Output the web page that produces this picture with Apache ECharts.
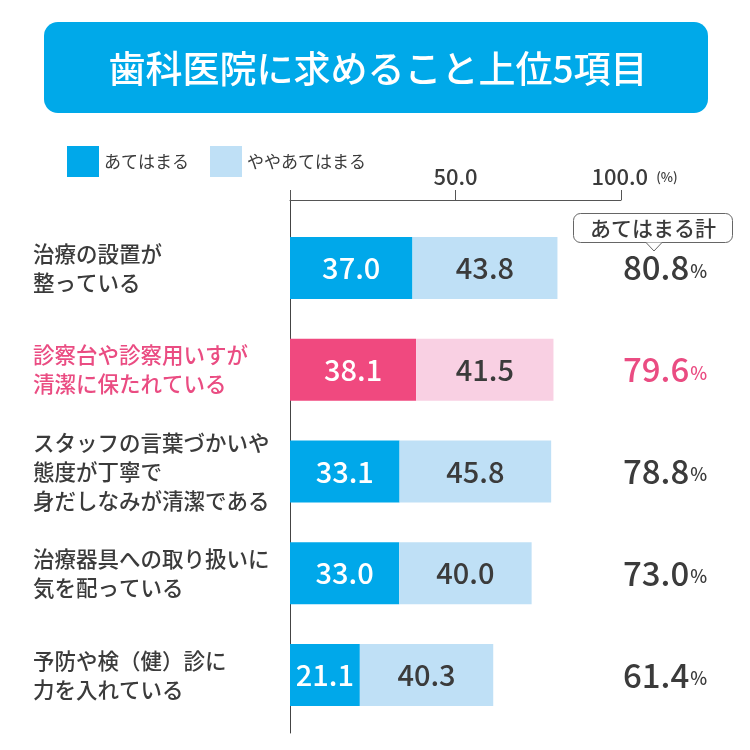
<!DOCTYPE html>
<html>
<head>
<meta charset="utf-8">
<script src="https://cdn.jsdelivr.net/npm/echarts@6/dist/echarts.min.js"></script>
<style>html,body{margin:0;padding:0;background:#fff;}#c{width:750px;height:750px;}</style>
</head>
<body>
<div id="c"></div>
<script>
// ---- data ----
const titleText = '歯科医院に求めること上位5項目';
const categories = [
  '治療の設置が\n整っている',
  '診察台や診察用いすが\n清潔に保たれている',
  'スタッフの言葉づかいや\n態度が丁寧で\n身だしなみが清潔である',
  '治療器具への取り扱いに\n気を配っている',
  '予防や検（健）診に\n力を入れている'
];
const seriesNames = ['あてはまる', 'ややあてはまる'];
const valuesStrong = [37.0, 38.1, 33.1, 33.0, 21.1];
const valuesSome = [43.8, 41.5, 45.8, 40.0, 40.3];
const totals = [80.8, 79.6, 78.8, 73.0, 61.4];
const totalHeader = 'あてはまる計';
const xTicks = [0, 50, 100];
const highlightIndex = 1;

// ---- style ----
const FONT = '"Noto Sans CJK JP", "Noto Sans", sans-serif';
const BLUE = '#00a8ea', LBLUE = '#bfe0f6', PINK = '#f0497f', LPINK = '#f9d0e3';
const TXT = '#3b3b3b', PTXT = '#ea4c82';

const chart = echarts.init(document.getElementById('c'), null, {renderer: 'canvas'});

function barData(vals, normal, hi) {
  return vals.map((v, i) => i === highlightIndex ? {value: v, itemStyle: {color: hi}} : v);
}

const option = {
  backgroundColor: '#fff',
  textStyle: {fontFamily: FONT},
  animation: false,
  legend: {
    left: 62, top: 141,
    itemWidth: 32, itemHeight: 31, itemGap: 21,
    icon: 'rect',
    data: seriesNames,
    textStyle: {fontSize: 17, color: TXT, fontFamily: FONT}
  },
  grid: [
    {left: 290, right: 129, top: 217, bottom: 24, containLabel: false, outerBoundsMode: 'none'},
    {left: 290, right: 129, top: 192, bottom: 17, containLabel: false, outerBoundsMode: 'none'}
  ],
  xAxis: [
    {
      gridIndex: 0, type: 'value', position: 'top', offset: 17,
      min: xTicks[0], max: xTicks[xTicks.length - 1], interval: xTicks[1] - xTicks[0],
      axisLine: {show: true, lineStyle: {color: '#555', width: 1}},
      axisTick: {show: true, length: 10, lineStyle: {color: '#555'}},
      splitLine: {show: false},
      axisLabel: {
        margin: 12, color: TXT, fontSize: 22, fontFamily: FONT, fontWeight: 500,
        formatter: v => v === 0 ? '' : (v === 100 ? '{p|}' + v.toFixed(1) + '{s|(%)}' : v.toFixed(1)),
        rich: {p: {width: 27}, s: {fontSize: 13, padding: [0, 0, 0, 8], color: TXT}}
      }
    },
    {gridIndex: 1, type: 'value', show: false, min: 0, max: 100}
  ],
  yAxis: [
    {
      gridIndex: 0, type: 'category', inverse: true,
      data: categories.map((c, i) => i === highlightIndex ? {value: c, textStyle: {color: PTXT, align: 'left'}} : c),
      axisLine: {show: true, lineStyle: {color: '#444'}},
      axisTick: {show: false},
      axisLabel: {align: 'left', margin: 257, fontSize: 21.5, lineHeight: 29, color: TXT, fontFamily: FONT, fontWeight: 500}
    },
    {
      gridIndex: 0, type: 'category', inverse: true, position: 'right',
      data: totals.map((t, i) => {
        const s = t.toFixed(1);
        return i === highlightIndex ? {value: s, textStyle: {color: PTXT}} : s;
      }),
      axisLine: {show: false}, axisTick: {show: false},
      axisLabel: {
        margin: 2, color: TXT, fontFamily: FONT,
        formatter: v => '{n|' + v + '}{p|%}',
        rich: {n: {fontSize: 33, fontFamily: FONT, fontWeight: 500}, p: {fontSize: 18, fontFamily: FONT, fontWeight: 500, padding: [6, 0, 0, 1]}}
      }
    },
    {
      gridIndex: 1, type: 'value', min: 0, max: 1,
      axisLine: {show: true, onZero: false, lineStyle: {color: '#444'}},
      axisTick: {show: false}, axisLabel: {show: false}, splitLine: {show: false}
    }
  ],
  series: [
    {
      name: seriesNames[0], type: 'bar', stack: 'a', barWidth: 62,
      xAxisIndex: 0, yAxisIndex: 0,
      itemStyle: {color: BLUE},
      data: barData(valuesStrong, BLUE, PINK),
      label: {show: true, position: 'inside', color: '#fff', fontSize: 29, fontFamily: FONT, fontWeight: 500,
        formatter: p => p.value.toFixed(1)}
    },
    {
      name: seriesNames[1], type: 'bar', stack: 'a', barWidth: 62,
      xAxisIndex: 0, yAxisIndex: 0,
      itemStyle: {color: LBLUE},
      data: barData(valuesSome, LBLUE, LPINK),
      label: {show: true, position: 'inside', color: TXT, fontSize: 29, fontFamily: FONT, fontWeight: 500,
        formatter: p => p.value.toFixed(1)}
    }
  ],
  graphic: [
    {
      type: 'rect', left: 44, top: 22, z: 10,
      shape: {width: 664, height: 91, r: 14},
      style: {fill: '#00a9e9'}
    },
    {
      type: 'text', x: 378, y: 69, z: 11,
      style: {text: titleText, fill: '#fff', font: '500 37px ' + FONT, textAlign: 'center', textVerticalAlign: 'middle'}
    },
    {
      type: 'rect', z: 10,
      shape: {x: 573.5, y: 213.5, width: 159, height: 29, r: 7},
      style: {fill: '#fff', stroke: '#666', lineWidth: 1}
    },
    {
      type: 'polygon', z: 11,
      shape: {points: [[646, 242.5], [654, 251], [662, 242.5]]},
      style: {fill: '#fff', stroke: null}
    },
    {
      type: 'polyline', z: 12,
      shape: {points: [[646, 242.5], [654, 251], [662, 242.5]]},
      style: {stroke: '#666', lineWidth: 1, fill: null}
    },
    {
      type: 'text', x: 653, y: 228, z: 12,
      style: {text: totalHeader, fill: TXT, font: '500 21px ' + FONT, textAlign: 'center', textVerticalAlign: 'middle'}
    }
  ]
};
chart.setOption(option);
</script>
</body>
</html>
